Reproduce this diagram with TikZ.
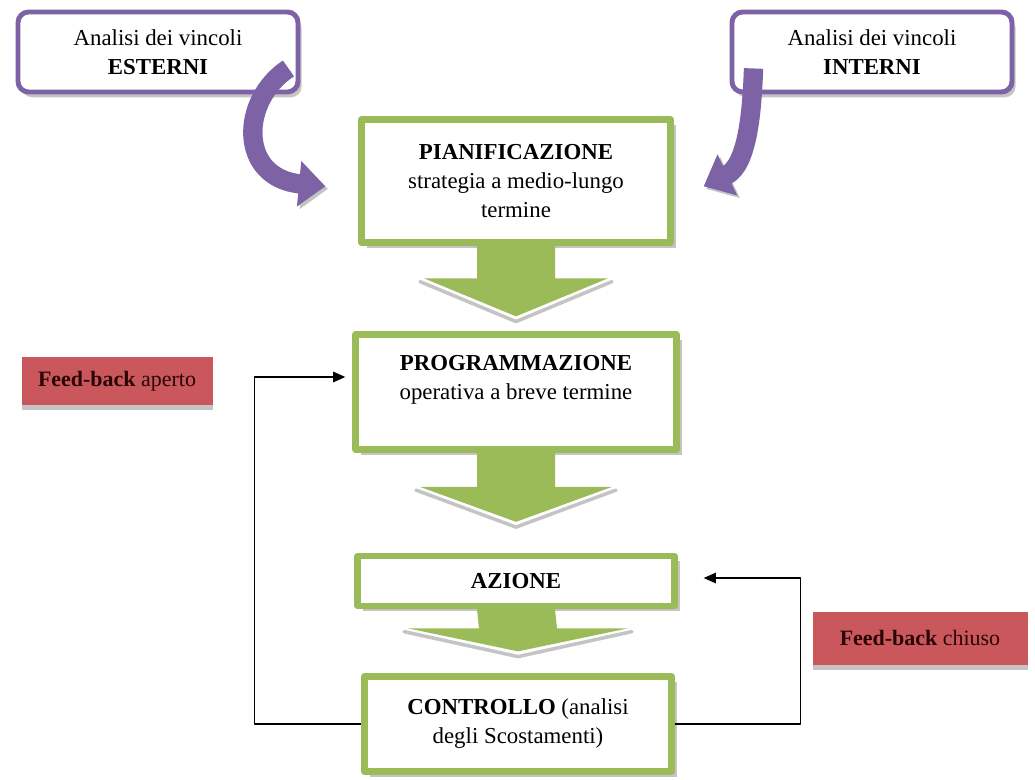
\documentclass[tikz,border=0pt]{standalone}
\usepackage{fontspec}
\setmainfont{Liberation Serif}
\usetikzlibrary{arrows.meta,calc,shadows}

\definecolor{boxgreen}{HTML}{9BBB59}
\definecolor{boxpurple}{HTML}{7D62A6}
\definecolor{boxred}{HTML}{C9575B}
\definecolor{shadowgray}{HTML}{C4C4C4}
\definecolor{fbtext}{HTML}{2A0505}

\begin{document}
\begin{tikzpicture}[
			x=0.02cm, y=-0.02cm,
			line cap=round,
			line join=round,
			every node/.style={font=\fontsize{13}{16.5}\selectfont, align=center, inner sep=0pt},
			greenbox/.style={draw=boxgreen, line width=3.6pt, fill=white,
				drop shadow={shadow xshift=3pt, shadow yshift=-3pt, fill=shadowgray, opacity=1}},
			purplebox/.style={draw=boxpurple, line width=2.8pt, fill=white, rounded corners=6pt,
				drop shadow={shadow xshift=2pt, shadow yshift=-3pt, fill=shadowgray, opacity=1}},
			redbox/.style={fill=boxred, text=fbtext, font=\fontsize{12.5}{15}\selectfont,
				drop shadow={shadow xshift=0pt, shadow yshift=-3pt, fill=shadowgray, opacity=1}},
			feedline/.style={line width=0.9pt, line cap=butt, -{Triangle[length=7pt,width=6pt]}},
			bentarrow/.style={boxpurple, line width=11pt, line cap=butt,
				-{Triangle[length=15pt,width=25pt]},
				preaction={draw=shadowgray, transform canvas={shift={(1.5pt,-1.5pt)}}}}
			]
			
			\def\px{0.02cm}
			\def\ShaftHalf{39}
			
			\newcommand{\FlowArrow}[5]{%
				\draw[shadowgray, line width=2pt, transform canvas={shift={(0pt,-3pt)}}]
				($(#2)+(-#5-4,-#3-#4-2)$) -- ($(#2)+(0,-#3)$) -- ($(#2)+(#5+4,-#3-#4-2)$);
				\fill[boxgreen] ($(#1)+(-\ShaftHalf,0)$) -- ($(#2)+(-\ShaftHalf,-#3-#4)$)
				-- ($(#2)+(-#5,-#3-#4)$) -- ($(#2)+(0,-#3)$) -- ($(#2)+(#5,-#3-#4)$)
				-- ($(#2)+(\ShaftHalf,-#3-#4)$) -- ($(#1)+(\ShaftHalf,0)$) -- cycle;
			}
			
			\useasboundingbox (0,0) rectangle (1035,780);
			
			% Vincoli
			\node[purplebox, minimum width=280*\px, minimum height=80*\px] (ext) at (158,52)
			{Analisi dei vincoli\\\textbf{ESTERNI}};
			\node[purplebox, minimum width=280*\px, minimum height=80*\px] (int) at (872,52)
			{Analisi dei vincoli\\\textbf{INTERNI}};
			
			% Fasi
			\node[greenbox, minimum width=309*\px, minimum height=123*\px] (plan) at (516,181)
			{\textbf{PIANIFICAZIONE}\\strategia a medio-lungo\\termine};
			\node[greenbox, minimum width=321*\px, minimum height=115*\px] (prog) at (516,392)
			{\textbf{PROGRAMMAZIONE}\\operativa a breve termine\\\mbox{}};
			\node[greenbox, minimum width=317*\px, minimum height=50*\px] (act) at (516,581)
			{\textbf{AZIONE}};
			\node[greenbox, minimum width=307*\px, minimum height=95*\px] (ctrl) at (518,724)
			{\textbf{CONTROLLO} (analisi\\degli Scostamenti)};
			
			% Feed-back
			\node[redbox, minimum width=191*\px, minimum height=48*\px] (fbopen) at (117,381)
			{\textbf{Feed-back} aperto};
			\node[redbox, minimum width=215*\px, minimum height=53*\px] (fbclosed) at (920,638)
			{\textbf{Feed-back} chiuso};
			
			% Frecce verdi
			\FlowArrow{plan.south}{prog.north}{15}{38}{92}
			\FlowArrow{prog.south}{act.north}{31}{35}{96}
			\FlowArrow{act.south}{ctrl.north}{22}{23}{110}
			
			% Frecce viola
			\draw[bentarrow] ($(ext.south east)+(-12,-26)$) .. controls (240,100) and (238,178)
			.. ($(plan.north west)+(-33,70)$);
			\draw[bentarrow] ($(int.south west)+(24,-26)$) .. controls (752,110) and (748,165)
			.. ($(plan.north east)+(30,70)$);
			
			% Anelli di retroazione
			\draw[feedline] (ctrl.west) -- ++(-107,0) |- ($(prog.west)+(-7,-15)$);
			\draw[feedline] (ctrl.east) -- ++(126,0) |- ($(act.east)+(26,-3)$);
			
		\end{tikzpicture}
\end{document}
